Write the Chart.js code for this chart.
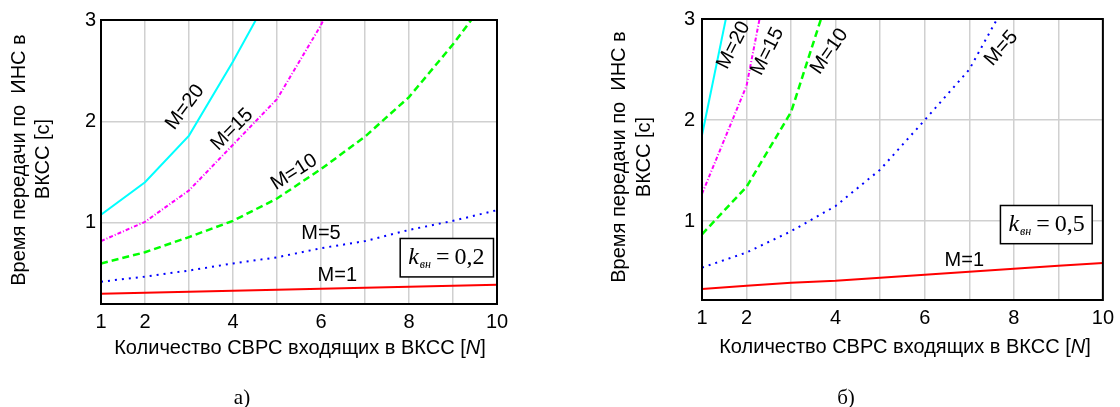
<!DOCTYPE html>
<html>
<head>
<meta charset="utf-8">
<script src="https://cdn.jsdelivr.net/npm/chart.js@4"></script>
<style>
  body { margin: 0; width: 1120px; height: 407px; background: #fff; overflow: hidden; position: relative; }
  canvas { position: absolute; top: 0; }
  .t { position: absolute; font: 20px "Liberation Sans", Arial, sans-serif; color: #000; white-space: pre; transform: translate(-50%, -50%); }
  .v { transform: translate(-50%, -50%) rotate(-90deg); }
  .cap { position: absolute; font: 21px "Liberation Serif", "Times New Roman", serif; transform: translate(-50%, -50%); }
</style>
</head>
<body>
<canvas id="chartA" width="560" height="407" style="left:0;width:560px;height:407px"></canvas>
<canvas id="chartB" width="560" height="407" style="left:560px;width:560px;height:407px"></canvas>

<div class="t v" style="left:18px;top:160px">Время передачи по  ИНС в</div>
<div class="t v" style="left:42px;top:159px">ВКСС [с]</div>
<div class="t" style="left:300px;top:347px">Количество СВРС входящих в ВКСС [<i>N</i>]</div>
<div class="cap" style="left:242px;top:397px">а)</div>

<div class="t v" style="left:618px;top:157px">Время передачи по  ИНС в</div>
<div class="t v" style="left:643px;top:157px">ВКСС [с]</div>
<div class="t" style="left:905px;top:346px">Количество СВРС входящих в ВКСС [<i>N</i>]</div>
<div class="cap" style="left:846px;top:397px">б)</div>

<script>
// ---- данные ----
const nValues = [1, 2, 3, 4, 5, 6, 7, 8, 9, 10];
const xTicks = [1, 2, 3, 4, 5, 6, 7, 8, 9, 10];
const xTickLabels = [1, 2, 4, 6, 8, 10];
const yTicks = [1, 2, 3];

// а) k = 0,2
const a_m1  = [0.30, 0.31, 0.32, 0.33, 0.34, 0.35, 0.36, 0.37, 0.38, 0.39];
const a_m5  = [0.42, 0.47, 0.53, 0.60, 0.66, 0.75, 0.82, 0.93, 1.02, 1.125];
const a_m10 = [0.60, 0.71, 0.86, 1.02, 1.24, 1.53, 1.85, 2.24, 2.76, 3.34];
const a_m15 = [0.82, 1.01, 1.32, 1.77, 2.22, 2.95, 3.9];
const a_m20 = [1.08, 1.40, 1.86, 2.59, 3.38];

// б) k = 0,5
const b_m1  = [0.33, 0.36, 0.39, 0.41, 0.44, 0.47, 0.50, 0.53, 0.56, 0.585];
const b_m5  = [0.54, 0.69, 0.90, 1.15, 1.51, 2.00, 2.50, 3.30];
const b_m10 = [0.87, 1.34, 2.08, 3.45];
const b_m15 = [1.27, 2.34, 4.6];
const b_m20 = [1.85, 4.0];

const seriesNames = ['M=1', 'M=5', 'M=10', 'M=15', 'M=20'];

const FONT = '"Liberation Sans", Arial, sans-serif';
const GRID = '#d0d0d0';

// стили линий
const styles = {
    'M=1':  { color: '#ff0000', dash: [], width: 2 },
    'M=5':  { color: '#0000ff', dash: [2, 5], width: 2 },
    'M=10': { color: '#00ff00', dash: [7, 4], width: 2.5 },
    'M=15': { color: '#ff00ff', dash: [4, 2, 1, 2], width: 2 },
    'M=20': { color: '#00ffff', dash: [], width: 2 }
};

function toPoints(ys) {
    return ys.map((y, i) => ({ x: nValues[i], y: y }));
}

function buildDatasets(list) {
    return list.map((ys, i) => {
        const st = styles[seriesNames[i]];
        return {
            label: seriesNames[i],
            data: toPoints(ys),
            borderColor: st.color,
            borderWidth: st.width,
            borderDash: st.dash,
            pointRadius: 0,
            tension: 0,
            clip: 0
        };
    });
}

// подписи кривых и рамка с k
const extras = {
    id: 'extras',
    afterDatasetsDraw(chart, args, opts) {
        const { ctx, chartArea: a, scales: { x, y } } = chart;
        ctx.save();
        ctx.fillStyle = '#000';
        ctx.font = '20px ' + FONT;
        ctx.textAlign = 'center';
        ctx.textBaseline = 'middle';
        opts.labels.forEach(l => {
            ctx.save();
            ctx.translate(x.getPixelForValue(l.n), y.getPixelForValue(l.v));
            ctx.rotate(l.angle * Math.PI / 180);
            ctx.fillText(l.text, 0, 0);
            ctx.restore();
        });

        // рамка k_вн
        const b = opts.box;
        const left = x.getPixelForValue(b.n1), right = x.getPixelForValue(b.n2);
        const top = y.getPixelForValue(b.v1), bottom = y.getPixelForValue(b.v2);
        ctx.fillStyle = '#fff';
        ctx.fillRect(left, top, right - left, bottom - top);
        ctx.strokeStyle = '#000';
        ctx.lineWidth = 1.5;
        ctx.strokeRect(left, top, right - left, bottom - top);
        ctx.fillStyle = '#000';
        ctx.textAlign = 'left';
        ctx.textBaseline = 'alphabetic';
        const base = (top + bottom) / 2 + 6;
        let px = left + 8;
        ctx.font = 'italic 24px "Liberation Serif", serif';
        ctx.fillText('k', px, base);
        px += ctx.measureText('k').width + 1;
        ctx.font = 'italic 12px "Liberation Serif", serif';
        ctx.fillText('вн', px, base + 4);
        px += ctx.measureText('вн').width + 5;
        ctx.font = '24px "Liberation Serif", serif';
        ctx.fillText('=', px, base);
        px += ctx.measureText('=').width + 5;
        ctx.fillText(b.text, px, base);

        // рамка области графика
        ctx.lineWidth = 2;
        ctx.strokeRect(a.left, a.top, a.right - a.left, a.bottom - a.top);
        ctx.restore();
    }
};

function makeChart(id, datasets, yMin, layout, extraOpts) {
    return new Chart(document.getElementById(id), {
        type: 'line',
        data: { datasets: datasets },
        options: {
            responsive: false,
            animation: false,
            devicePixelRatio: 1,
            layout: { padding: layout.padding },
            plugins: { legend: { display: false }, tooltip: { enabled: false }, extras: extraOpts },
            scales: {
                x: {
                    type: 'linear', min: 1, max: 10,
                    afterBuildTicks: s => { s.ticks = xTicks.map(v => ({ value: v })); },
                    afterFit: s => { s.height = layout.xHeight; },
                    ticks: {
                        autoSkip: false, maxRotation: 0, color: '#000', padding: 6,
                        font: { family: FONT, size: 20 },
                        callback: v => xTickLabels.includes(v) ? String(v) : ''
                    },
                    grid: { color: GRID, lineWidth: 1.5, drawTicks: false },
                    border: { display: false }
                },
                y: {
                    type: 'linear', min: yMin, max: 3,
                    afterBuildTicks: s => { s.ticks = yTicks.map(v => ({ value: v })); },
                    afterFit: s => { s.width = layout.yWidth; },
                    ticks: {
                        color: '#000', padding: layout.yPad,
                        font: { family: FONT, size: 20 },
                        callback: v => String(v)
                    },
                    grid: { color: GRID, lineWidth: 1.5, drawTicks: false },
                    border: { display: false }
                }
            }
        },
        plugins: [extras]
    });
}

makeChart('chartA', buildDatasets([a_m1, a_m5, a_m10, a_m15, a_m20]), 0.2,
    { padding: { left: 0, top: 20, right: 63, bottom: 0 }, xHeight: 103, yWidth: 101, yPad: 5 },
    {
        labels: [
            { text: 'M=20', n: 2.91, v: 2.14, angle: -53 },
            { text: 'M=15', n: 3.98, v: 1.92, angle: -45 },
            { text: 'M=10', n: 5.39, v: 1.50, angle: -32 },
            { text: 'M=5',  n: 6.0,  v: 0.90, angle: 0 },
            { text: 'M=1',  n: 6.37, v: 0.485, angle: 0 }
        ],
        box: { n1: 7.80, n2: 9.92, v1: 0.846, v2: 0.467, text: '0,2' }
    });

makeChart('chartB', buildDatasets([b_m1, b_m5, b_m10, b_m15, b_m20]), 0.22,
    { padding: { left: 0, top: 14, right: 13, bottom: 0 }, xHeight: 107, yWidth: 142, yPad: 7 },
    {
        labels: [
            { text: 'M=20', n: 1.71, v: 2.74, angle: -63 },
            { text: 'M=15', n: 2.47, v: 2.68, angle: -63 },
            { text: 'M=10', n: 3.86, v: 2.68, angle: -55 },
            { text: 'M=5',  n: 7.72, v: 2.71, angle: -49 },
            { text: 'M=1',  n: 6.89, v: 0.61, angle: 0 }
        ],
        box: { n1: 7.70, n2: 9.76, v1: 1.155, v2: 0.777, text: '0,5' }
    });
</script>
</body>
</html>
